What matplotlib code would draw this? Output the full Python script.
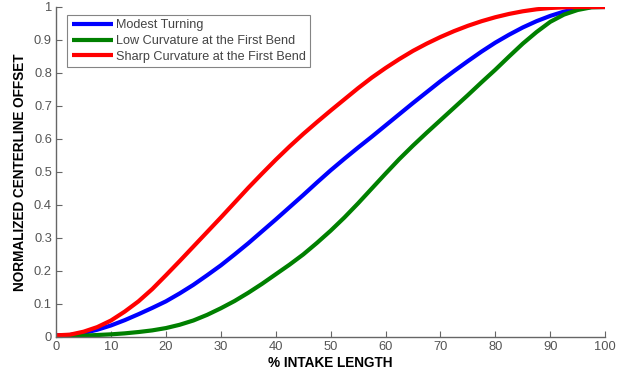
import matplotlib
matplotlib.use("Agg")
import matplotlib.pyplot as plt

x = [0, 2.5, 5, 7.5, 10, 12.5, 15, 17.5, 20, 22.5, 25, 27.5, 30, 32.5, 35, 37.5, 40, 42.5, 45, 47.5,
     50, 52.5, 55, 57.5, 60, 62.5, 65, 67.5, 70, 72.5, 75, 77.5, 80, 82.5, 85, 87.5, 90, 92.5, 95, 97.5, 100]
modest = [0.005, 0.006, 0.012, 0.022, 0.035, 0.051, 0.069, 0.088, 0.108, 0.132, 0.158, 0.187, 0.217, 0.25,
          0.284, 0.32, 0.356, 0.393, 0.43, 0.468, 0.505, 0.54, 0.574, 0.607, 0.641, 0.675, 0.709, 0.742,
          0.775, 0.806, 0.836, 0.865, 0.892, 0.916, 0.938, 0.957, 0.973, 0.986, 0.995, 1.0, 1.0]
low = [0.003, 0.003, 0.004, 0.006, 0.008, 0.011, 0.015, 0.02, 0.027, 0.037, 0.05, 0.067, 0.087, 0.109,
       0.134, 0.161, 0.19, 0.219, 0.25, 0.285, 0.322, 0.362, 0.405, 0.45, 0.495, 0.539, 0.58, 0.619,
       0.657, 0.695, 0.733, 0.772, 0.81, 0.85, 0.889, 0.924, 0.955, 0.977, 0.991, 0.999, 1.0]
sharp = [0.005, 0.007, 0.016, 0.03, 0.05, 0.077, 0.108, 0.145, 0.187, 0.23, 0.274, 0.318, 0.362, 0.407,
         0.452, 0.495, 0.537, 0.577, 0.615, 0.651, 0.686, 0.72, 0.754, 0.786, 0.815, 0.842, 0.867, 0.889,
         0.909, 0.927, 0.943, 0.957, 0.969, 0.979, 0.987, 0.993, 0.997, 0.999, 1.0, 1.0, 1.0]
labels = ["Modest Turning", "Low Curvature at the First Bend", "Sharp Curvature at the First Bend"]
xticks = [0, 10, 20, 30, 40, 50, 60, 70, 80, 90, 100]
yticks = [0, 0.1, 0.2, 0.3, 0.4, 0.5, 0.6, 0.7, 0.8, 0.9, 1]
ytick_labels = ["0", "0.1", "0.2", "0.3", "0.4", "0.5", "0.6", "0.7", "0.8", "0.9", "1"]

plt.rcParams['font.family'] = ['Liberation Sans', 'DejaVu Sans']

fig = plt.figure(figsize=(6.34, 3.78), dpi=100)
ax = fig.add_axes([0.0885, 0.1085, 0.866, 0.873])

ax.plot(x, modest, color=(0, 0, 1), lw=3, label=labels[0], solid_capstyle='butt')
ax.plot(x, low, color=(0, 0.5, 0), lw=3, label=labels[1], solid_capstyle='butt')
ax.plot(x, sharp, color=(1, 0, 0), lw=3, label=labels[2], solid_capstyle='butt')

ax.set_xlim(0, 100)
ax.set_ylim(0, 1)
ax.set_xticks(xticks)
ax.set_yticks(yticks)
ax.set_yticklabels(ytick_labels)
for s in ['top', 'right']:
    ax.spines[s].set_visible(False)
for s in ['left', 'bottom']:
    ax.spines[s].set_color('#666666')
    ax.spines[s].set_linewidth(1.0)
ax.tick_params(direction='in', length=4, colors='#666666', labelcolor='#555555', labelsize=9.3, pad=3)

ax.set_xlabel("% INTAKE LENGTH", fontsize=9.8, fontweight='bold', labelpad=2)
ax.set_ylabel("NORMALIZED CENTERLINE OFFSET", fontsize=9.8, fontweight='bold', labelpad=5)

leg = ax.legend(loc='upper left', bbox_to_anchor=(0.02, 0.976), fontsize=9.1, frameon=True,
                fancybox=False, edgecolor='#666666', handlelength=3.25, handletextpad=0.25,
                borderpad=0.35, labelspacing=0.3, borderaxespad=0)
leg.get_frame().set_linewidth(0.8)
for t in leg.get_texts():
    t.set_color('#444444')

fig.savefig("out.png", dpi=100)
